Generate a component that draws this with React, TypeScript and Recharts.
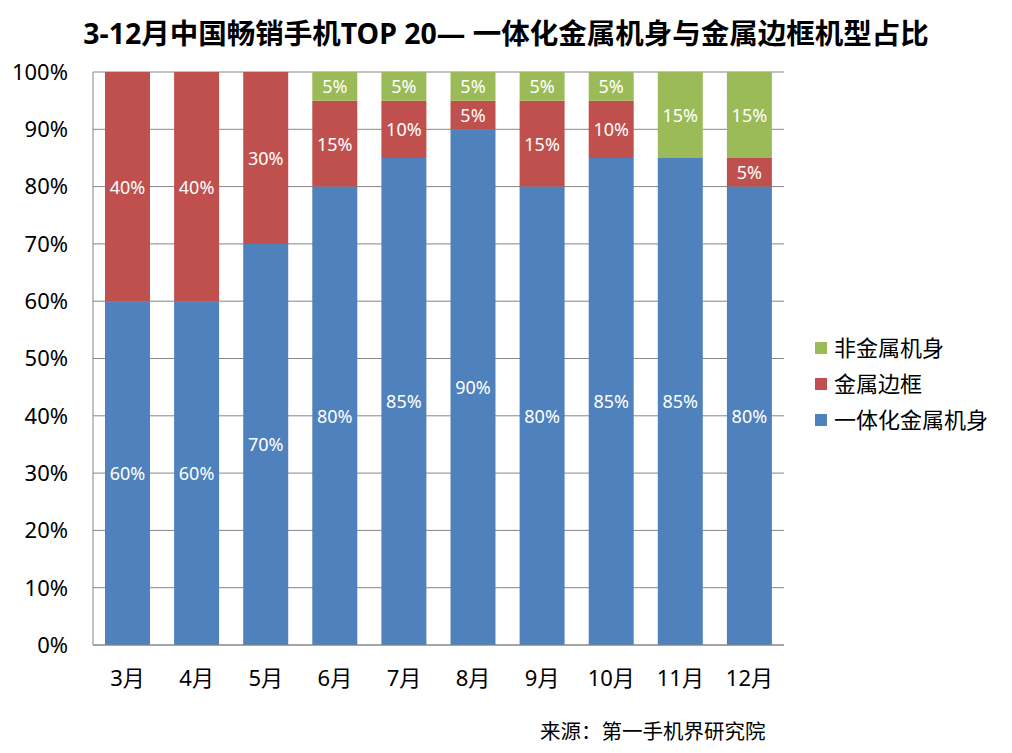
import React from 'react';
import { BarChart, Bar, XAxis, YAxis, CartesianGrid, Legend, LabelList } from 'recharts';

const months = ['3月', '4月', '5月', '6月', '7月', '8月', '9月', '10月', '11月', '12月'];
const unibody = [60, 60, 70, 80, 85, 90, 80, 85, 85, 80];
const metalFrame = [40, 40, 30, 15, 10, 5, 15, 10, 0, 5];
const nonMetal = [0, 0, 0, 5, 5, 5, 5, 5, 15, 15];
const yTicks = [0, 10, 20, 30, 40, 50, 60, 70, 80, 90, 100];

const series = [
  { key: 'unibody', name: '一体化金属机身', color: '#4F81BD' },
  { key: 'frame', name: '金属边框', color: '#C0504D' },
  { key: 'nonmetal', name: '非金属机身', color: '#9BBB59' },
];

const data = months.map((m, i) => ({
  month: m,
  unibody: unibody[i],
  frame: metalFrame[i],
  nonmetal: nonMetal[i],
}));

const FONT = '"Noto Sans", "Noto Sans CJK SC", sans-serif';

const renderLabel = (props: any) => {
  const { x, y, width, height, value } = props;
  if (!value) return null;
  return (
    <text
      x={x + width / 2}
      y={y + height / 2}
      fill="#fff"
      fontSize={18}
      fontFamily={FONT}
      textAnchor="middle"
      dominantBaseline="central"
    >
      {value}%
    </text>
  );
};

const LegendBox = () => (
  <div style={{ fontFamily: FONT, fontSize: 22, color: '#000' }}>
    {[...series].reverse().map((s) => (
      <div key={s.key} style={{ display: 'flex', alignItems: 'center', height: 36 }}>
        <span style={{ width: 12, height: 12, background: s.color, marginRight: 7, marginTop: 4 }} />
        <span>{s.name}</span>
      </div>
    ))}
  </div>
);

export default function App() {
  return (
    <div style={{ position: 'absolute', left: 0, top: 0, width: 1012, height: 753, background: '#fff' }}>
      <div
        style={{
          position: 'absolute',
          left: 0,
          width: 1012,
          top: 11,
          textAlign: 'center',
          fontFamily: FONT,
          fontWeight: 'bold',
          fontSize: 28.5,
          color: '#000',
          paddingRight: 6,
        }}
      >
        3-12月中国畅销手机TOP 20— 一体化金属机身与金属边框机型占比
      </div>
      <BarChart
        width={1012}
        height={753}
        data={data}
        margin={{ top: 72, right: 228, bottom: 48, left: 0 }}
        barSize={45}
      >
        <CartesianGrid horizontal vertical={false} stroke="#868686" />
        <XAxis
          dataKey="month"
          height={60}
          axisLine={{ stroke: '#868686' }}
          tickLine={false}
          tickSize={0}
          tickMargin={25}
          tick={{ fill: '#000', fontSize: 22, fontFamily: FONT }}
          interval={0}
        />
        <YAxis
          width={93}
          domain={[0, 100]}
          ticks={yTicks}
          tickFormatter={(v) => `${v}%`}
          axisLine={{ stroke: '#868686' }}
          tickLine={false}
          tickSize={0}
          tickMargin={25}
          tick={{ fill: '#000', fontSize: 22, fontFamily: FONT }}
        />
        <Legend
          layout="horizontal"
          verticalAlign="middle"
          content={() => <LegendBox />}
          wrapperStyle={{ left: 815, top: 328, width: 195, height: 110 }}
        />
        {series.map((s) => (
          <Bar
            key={s.key}
            dataKey={s.key}
            name={s.name}
            stackId="a"
            fill={s.color}
            isAnimationActive={false}
          >
            <LabelList dataKey={s.key} content={renderLabel} />
          </Bar>
        ))}
      </BarChart>
      <div
        style={{
          position: 'absolute',
          left: 540,
          top: 715,
          fontFamily: FONT,
          fontSize: 20.5,
          color: '#000',
        }}
      >
        来源：第一手机界研究院
      </div>
    </div>
  );
}
